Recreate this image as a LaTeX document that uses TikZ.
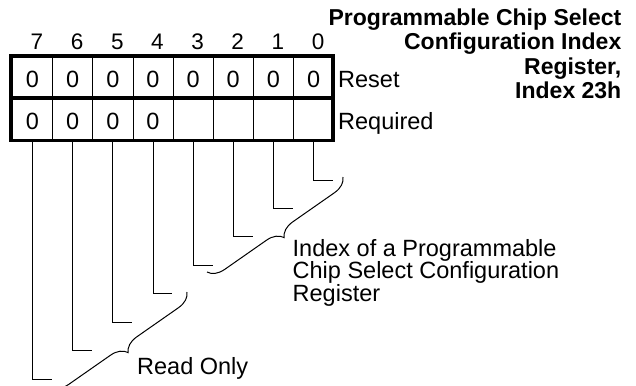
\documentclass[tikz,border=0pt]{standalone}
\usepackage{fontspec}
\setmainfont{Liberation Sans}
\usetikzlibrary{decorations.pathreplacing}
\begin{document}
\begin{tikzpicture}[x=1pt,y=-1pt,
  thickln/.style={line width=3.8pt},
  thinln/.style={line width=1pt},
  bodytxt/.style={inner sep=0pt,font=\fontsize{23.5}{27}\selectfont},
  bittxt/.style={inner sep=0pt,anchor=base,font=\fontsize{22.5}{25}\selectfont},
  titletxt/.style={inner sep=0pt,anchor=base east,font=\fontsize{23}{25}\selectfont\bfseries},
  cell/.style={minimum width=40.15pt,minimum height=42pt,inner sep=0pt},
  leader/.style={line width=0.9pt},
  bracedeco/.style={line width=1pt,decorate,decoration={brace,amplitude=16pt}}]
\useasboundingbox (0,0) rectangle (636,385);
% cells
\foreach \i in {0,...,7}{
  \pgfmathsetmacro{\cx}{32.5+40.15*\i}
  \node[cell] (r\i) at (\cx,77) {};
  \node[cell] (q\i) at (\cx,119.25) {};
  \pgfmathtruncatemacro{\bit}{7-\i}
  \pgfmathsetmacro{\bx}{37+40.15*\i}
  \node[bittxt] (b\i) at (\bx,50) {\bit};
  \node[bodytxt,anchor=base] (r\i t) at (\cx,87.3) {0};
}
\foreach \i in {0,...,3}{
  \pgfmathsetmacro{\cx}{32.5+40.15*\i}
  \node[bodytxt,anchor=base] (q\i t) at (\cx,129.3) {0};
}
% thin dividers
\foreach \i in {0,...,6}{
  \draw[thinln] (r\i.north east) -- (q\i.south east);
}
% thick outline
\draw[thickln] (11,56) rectangle (333,140.5);
\draw[thickln] (11,98) -- (333,98);
% labels
\node[bodytxt,anchor=base west] (reset) at (338,87.3) {Reset};
\node[bodytxt,anchor=base west] (req) at (338,129.3) {Required};
% title
\node[titletxt] (t1) at (621.5,25.5) {Programmable Chip Select};
\node[titletxt] (t2) at (621.5,50) {Configuration Index};
\node[titletxt] (t3) at (621.5,74.5) {Register,};
\node[titletxt] (t4) at (621.5,99) {Index 23h};
% leader lines
\foreach \i in {0,...,7}{
  \pgfmathsetmacro{\cx}{32.5+40.15*\i}
  \pgfmathsetmacro{\ey}{379-28.43*\i}
  \pgfmathsetmacro{\ex}{\cx+19.5}
  \coordinate (e\i) at (\ex,\ey);
  \draw[leader] (q\i.south) -- (q\i.south |- e\i) -- (e\i);
}
% braces
\coordinate (ra) at (187,292);
\coordinate (rb) at (51,387);
\coordinate (ia) at (343,177);
\coordinate (ib) at (207,272);
\draw[bracedeco] (ra) -- (rb);
\draw[bracedeco] (ia) -- (ib);
% brace texts
\node[bodytxt,anchor=base west] (ro) at (137,374.3) {Read Only};
\node[bodytxt,anchor=base west] (ix1) at (292.5,256) {Index of a Programmable};
\node[bodytxt,anchor=base west] (ix2) at (292.5,278.5) {Chip Select Configuration};
\node[bodytxt,anchor=base west] (ix3) at (292.5,301) {Register};
\end{tikzpicture}
\end{document}
